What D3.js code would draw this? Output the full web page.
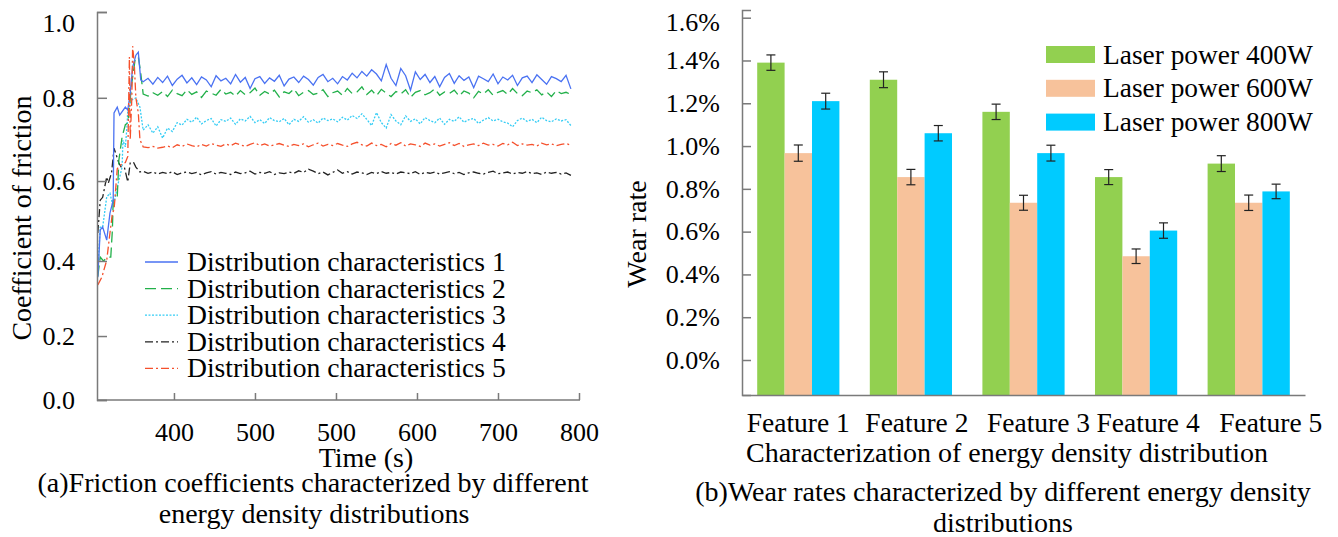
<!DOCTYPE html>
<html><head><meta charset="utf-8">
<script src="https://cdn.jsdelivr.net/npm/d3@7"></script>
<style>
body{margin:0;background:#fff}
text{font-family:"Liberation Serif","Times New Roman",Times,serif;fill:#000}
</style>
</head><body>
<svg id="c" width="1338" height="537"></svg>
<script>
// ---------------- Data: (a) friction coefficient ----------------
const seriesNames = ["Distribution characteristics 1","Distribution characteristics 2","Distribution characteristics 3","Distribution characteristics 4","Distribution characteristics 5"];
const timeTicks = [400, 500, 600, 700, 800, 900];
const timeTickLabels = ["400","500","500","600","700","800"];
const frictionTicks = [0, 0.2, 0.4, 0.6, 0.8, 1.0];

// start-up transients [time, value]
const s1Start = [[306,.358],[309,.479],[312,.486],[317,.453],[321,.521],[325,.553],[326,.764],[330,.778],[333,.759],[340,.778],[343,.771],[346,.811],[349,.872],[353,.900],[356,.907],[359,.842]];
const s2Start = [[306,.36],[309,.41],[313,.40],[318,.41],[322,.41],[324,.479],[325,.553],[330,.561],[332,.651],[336,.707],[340,.736],[343,.740],[348,.835],[352,.889],[356,.896],[359,.858]];
const s3Start = [[306,.377],[309,.486],[312,.486],[317,.561],[321,.57],[325,.536],[330,.585],[336,.634],[337,.699],[340,.683],[342,.731],[343,.771],[348,.795],[353,.80],[354,.795],[358,.778]];
const s4Start = [[306,.471],[309,.553],[312,.56],[317,.61],[319,.595],[323,.62],[326,.68],[332,.644],[335,.634],[339,.632],[343,.598],[346,.644],[350,.646],[353,.634],[358,.622]];
const s5Start = [[306,.338],[311,.358],[317,.402],[321,.471],[324,.521],[326,.529],[327,.553],[330,.63],[335,.64],[340,.645],[343,.66],[345,.896],[346,.70],[348,.80],[349,.921],[351,.88],[353,.80],[356,.764],[358,.70]];

// steady-state readings, one every 6 s from 362 s
const steadyStart = 362, steadyStep = 6;
const s1Steady = [0.838,0.846,0.832,0.848,0.836,0.851,0.829,0.844,0.853,0.835,
0.847,0.831,0.849,0.842,0.826,0.852,0.840,0.846,0.833,0.855,
0.837,0.848,0.822,0.845,0.850,0.834,0.847,0.839,0.853,0.828,
0.844,0.849,0.836,0.851,0.843,0.830,0.848,0.855,0.838,0.846,
0.833,0.850,0.842,0.858,0.847,0.862,0.851,0.866,0.856,0.840,
0.878,0.846,0.829,0.869,0.852,0.818,0.861,0.843,0.855,0.836,
0.850,0.826,0.848,0.857,0.834,0.852,0.841,0.849,0.824,0.851,
0.845,0.838,0.856,0.833,0.849,0.842,0.853,0.829,0.847,0.851,
0.836,0.854,0.843,0.832,0.850,0.845,0.838,0.853,0.821];
const s2Steady = [0.809,0.804,0.812,0.806,0.815,0.803,0.818,0.810,0.805,0.819,
0.808,0.814,0.801,0.816,0.811,0.806,0.820,0.809,0.813,0.804,
0.817,0.807,0.812,0.823,0.806,0.815,0.809,0.818,0.802,0.814,
0.810,0.821,0.805,0.813,0.817,0.808,0.811,0.819,0.803,0.812,
0.816,0.806,0.822,0.810,0.814,0.826,0.808,0.818,0.805,0.820,
0.811,0.803,0.815,0.809,0.819,0.801,0.813,0.817,0.807,0.812,
0.821,0.806,0.814,0.810,0.818,0.804,0.816,0.811,0.800,0.815,
0.809,0.819,0.806,0.813,0.817,0.808,0.822,0.810,0.805,0.816,
0.812,0.819,0.807,0.814,0.803,0.817,0.810,0.813,0.808];
const s3Steady = [0.723,0.736,0.716,0.731,0.704,0.728,0.720,0.741,0.735,0.749,
0.742,0.754,0.738,0.746,0.751,0.733,0.748,0.744,0.752,0.737,
0.750,0.745,0.756,0.741,0.748,0.739,0.753,0.746,0.743,0.751,
0.736,0.749,0.744,0.755,0.742,0.748,0.740,0.752,0.746,0.750,
0.743,0.754,0.747,0.758,0.751,0.762,0.749,0.734,0.765,0.741,
0.728,0.760,0.745,0.736,0.757,0.744,0.750,0.738,0.753,0.746,
0.741,0.752,0.737,0.749,0.744,0.755,0.742,0.748,0.751,0.739,
0.747,0.753,0.745,0.749,0.743,0.740,0.731,0.746,0.752,0.744,
0.749,0.741,0.754,0.746,0.743,0.750,0.745,0.748,0.734];
const s4Steady = [0.624,0.619,0.622,0.617,0.621,0.618,0.623,0.616,0.620,0.622,
0.618,0.621,0.615,0.620,0.623,0.617,0.621,0.619,0.616,0.622,
0.618,0.620,0.624,0.617,0.621,0.619,0.623,0.616,0.620,0.618,
0.622,0.619,0.625,0.621,0.629,0.624,0.618,0.622,0.615,0.621,
0.627,0.619,0.623,0.617,0.622,0.620,0.616,0.621,0.618,0.623,
0.619,0.621,0.617,0.622,0.620,0.618,0.623,0.616,0.621,0.619,
0.622,0.617,0.620,0.623,0.618,0.621,0.616,0.620,0.622,0.619,
0.617,0.621,0.624,0.618,0.620,0.622,0.617,0.621,0.619,0.623,
0.618,0.620,0.616,0.622,0.619,0.621,0.617,0.620,0.614];
const s5Steady = [0.683,0.681,0.684,0.680,0.682,0.685,0.681,0.688,0.684,0.690,
0.686,0.683,0.689,0.685,0.691,0.687,0.684,0.690,0.686,0.692,
0.688,0.684,0.689,0.693,0.686,0.690,0.685,0.688,0.691,0.687,
0.684,0.689,0.686,0.690,0.683,0.688,0.692,0.685,0.689,0.686,
0.691,0.687,0.684,0.690,0.694,0.688,0.685,0.692,0.686,0.689,
0.683,0.691,0.687,0.693,0.685,0.690,0.688,0.684,0.692,0.687,
0.690,0.685,0.689,0.693,0.686,0.691,0.684,0.688,0.690,0.686,
0.692,0.687,0.689,0.685,0.691,0.688,0.694,0.686,0.690,0.687,
0.689,0.685,0.692,0.688,0.690,0.686,0.689,0.691,0.687];

// ---------------- Data: (b) wear rate ----------------
const features = ["Feature 1","Feature 2","Feature 3","Feature 4","Feature 5"];
const powers = ["Laser power 400W","Laser power 600W","Laser power 800W"];
const wear400 = [1.39, 1.31, 1.16, 0.855, 0.918];
const wear600 = [0.967, 0.855, 0.735, 0.485, 0.735];
const wear800 = [1.21, 1.06, 0.967, 0.605, 0.788];
const err400 = [0.036, 0.037, 0.036, 0.035, 0.037];
const err600 = [0.038, 0.036, 0.035, 0.034, 0.036];
const err800 = [0.037, 0.036, 0.037, 0.036, 0.034];
const wearTicks = [0, 0.2, 0.4, 0.6, 0.8, 1.0, 1.2, 1.4, 1.6];

// ---------------- Styles / layout ----------------
const lineColors = ["#4a72f2","#22b04a","#35cdf5","#222222","#f5502c"];
const lineDashes = [null, "11,5", "2,1.5", "8,3,2,3", "8,3,2,3"];
const barColors = ["#92d050","#f7c29b","#00cbff"];
const axisColor = "#7a7a7a";
const featureLabelShift = [0, 6, 15, 12, 22];
const FONT = '"Liberation Serif","Times New Roman",Times,serif';

const svg = d3.select("#c");

// ================= Chart (a) =================
const xL = d3.scaleLinear().domain([305, 900]).range([97, 579]);
const yL = d3.scalePow().exponent(1.12).domain([0, 1]).range([400, 12]);

const starts = [s1Start, s2Start, s3Start, s4Start, s5Start];
const steadies = [s1Steady, s2Steady, s3Steady, s4Steady, s5Steady];
const seriesData = starts.map((st, i) =>
  st.concat(steadies[i].map((v, j) => [steadyStart + j * steadyStep, v])));

const line = d3.line().x(d => xL(d[0])).y(d => yL(d[1]));
const gL = svg.append("g");
[3,2,1,0,4].forEach(i => {
  gL.append("path").datum(seriesData[i])
    .attr("d", line).attr("fill", "none")
    .attr("stroke", lineColors[i]).attr("stroke-width", 1.3)
    .attr("stroke-dasharray", lineDashes[i]);
});

const axL = gL.append("g").attr("transform", "translate(97,0)")
  .call(d3.axisLeft(yL).tickValues(frictionTicks).tickFormat(d3.format(".1f"))
    .tickSizeInner(-10).tickSizeOuter(-10).tickPadding(22));
const axB = gL.append("g").attr("transform", "translate(0,400)")
  .call(d3.axisBottom(xL).tickValues(timeTicks).tickFormat((d, i) => timeTickLabels[i])
    .tickSizeInner(-7).tickSizeOuter(0).tickPadding(23));
[axL, axB].forEach(a => {
  a.selectAll("path,line").attr("stroke", axisColor).attr("stroke-width", 1.5);
  a.selectAll("text").style("font-family", FONT).style("font-size", "26px").attr("fill", "#000");
});
axB.select(".domain").attr("d", "M" + xL.range()[0] + ",0H" + (xL.range()[1] + 1));
axL.selectAll(".tick text").filter(d => d === 1).attr("y", 11);

gL.append("text").attr("transform", "translate(31,218) rotate(-90)")
  .attr("text-anchor", "middle").style("font-size", "28px").text("Coefficient of friction");
gL.append("text").attr("x", 366).attr("y", 467).attr("text-anchor", "middle")
  .style("font-size", "28px").text("Time (s)");
gL.append("text").attr("x", 313).attr("y", 492).attr("text-anchor", "middle")
  .style("font-size", "28px").text("(a)Friction coefficients characterized by different");
gL.append("text").attr("x", 314).attr("y", 523).attr("text-anchor", "middle")
  .style("font-size", "28px").text("energy density distributions");

const legA = gL.append("g");
seriesNames.forEach((n, i) => {
  const y = 262 + i * 26.6;
  legA.append("line").attr("x1", 145).attr("x2", 178).attr("y1", y).attr("y2", y)
    .attr("stroke", lineColors[i]).attr("stroke-width", 1.3).attr("stroke-dasharray", lineDashes[i]);
  legA.append("text").attr("x", 187).attr("y", y + 9).style("font-size", "27.6px").text(n);
});

// ================= Chart (b) =================
const xR = d3.scaleBand().domain(features).range([742, 1305]).paddingInner(0.27).paddingOuter(0.135);
const xS = d3.scaleBand().domain(powers).range([0, xR.bandwidth()]);
const yR = d3.scaleLinear().domain([-0.1636, 1.636]).range([395, 10]);

const values = [wear400, wear600, wear800];
const errs = [err400, err600, err800];
const gR = svg.append("g");
const base = yR(yR.domain()[0]);

features.forEach((f, fi) => {
  powers.forEach((p, pi) => {
    const v = values[pi][fi];
    gR.append("rect").attr("x", xR(f) + xS(p)).attr("width", xS.bandwidth())
      .attr("y", yR(v)).attr("height", base - yR(v)).attr("fill", barColors[pi]);
  });
});
features.forEach((f, fi) => {
  powers.forEach((p, pi) => {
    const v = values[pi][fi], e = errs[pi][fi];
    const cx = xR(f) + xS(p) + xS.bandwidth() / 2;
    const eb = gR.append("g").attr("stroke", "#222").attr("stroke-width", 1.2);
    eb.append("line").attr("x1", cx).attr("x2", cx).attr("y1", yR(v + e)).attr("y2", yR(v - e));
    eb.append("line").attr("x1", cx - 4.5).attr("x2", cx + 4.5).attr("y1", yR(v + e)).attr("y2", yR(v + e));
    eb.append("line").attr("x1", cx - 4.5).attr("x2", cx + 4.5).attr("y1", yR(v - e)).attr("y2", yR(v - e));
  });
});

const axR = gR.append("g").attr("transform", "translate(742,0)")
  .call(d3.axisLeft(yR).tickValues(wearTicks).tickFormat(d => d.toFixed(1) + "%")
    .tickSizeInner(-9).tickSizeOuter(-9).tickPadding(22));
const axRB = gR.append("g").attr("transform", "translate(0,395)")
  .call(d3.axisBottom(xR).tickSize(0).tickPadding(17));
[axR, axRB].forEach(a => {
  a.selectAll("path,line").attr("stroke", axisColor).attr("stroke-width", 1.5);
  a.selectAll("text").style("font-family", FONT).attr("fill", "#000");
});
axR.selectAll("text").style("font-size", "26px");
axR.selectAll(".tick text").filter(d => d === 1.6).attr("y", 4);
axRB.selectAll("text").style("font-size", "27.5px")
  .attr("dx", (d, i) => featureLabelShift[i]);

gR.append("text").attr("transform", "translate(646,234) rotate(-90)")
  .attr("text-anchor", "middle").style("font-size", "28px").text("Wear rate");
gR.append("text").attr("x", 1007).attr("y", 462).attr("text-anchor", "middle")
  .style("font-size", "28px").text("Characterization of energy density distribution");
gR.append("text").attr("x", 1003).attr("y", 501).attr("text-anchor", "middle")
  .style("font-size", "28px").text("(b)Wear rates characterized by different energy density");
gR.append("text").attr("x", 1003).attr("y", 532).attr("text-anchor", "middle")
  .style("font-size", "28px").text("distributions");

powers.forEach((p, i) => {
  const y = 54.5 + i * 33.8;
  gR.append("rect").attr("x", 1046).attr("y", y - 8.5).attr("width", 49).attr("height", 17).attr("fill", barColors[i]);
  gR.append("text").attr("x", 1103).attr("y", y + 9).style("font-size", "27.4px").text(p);
});
</script>
</body></html>
